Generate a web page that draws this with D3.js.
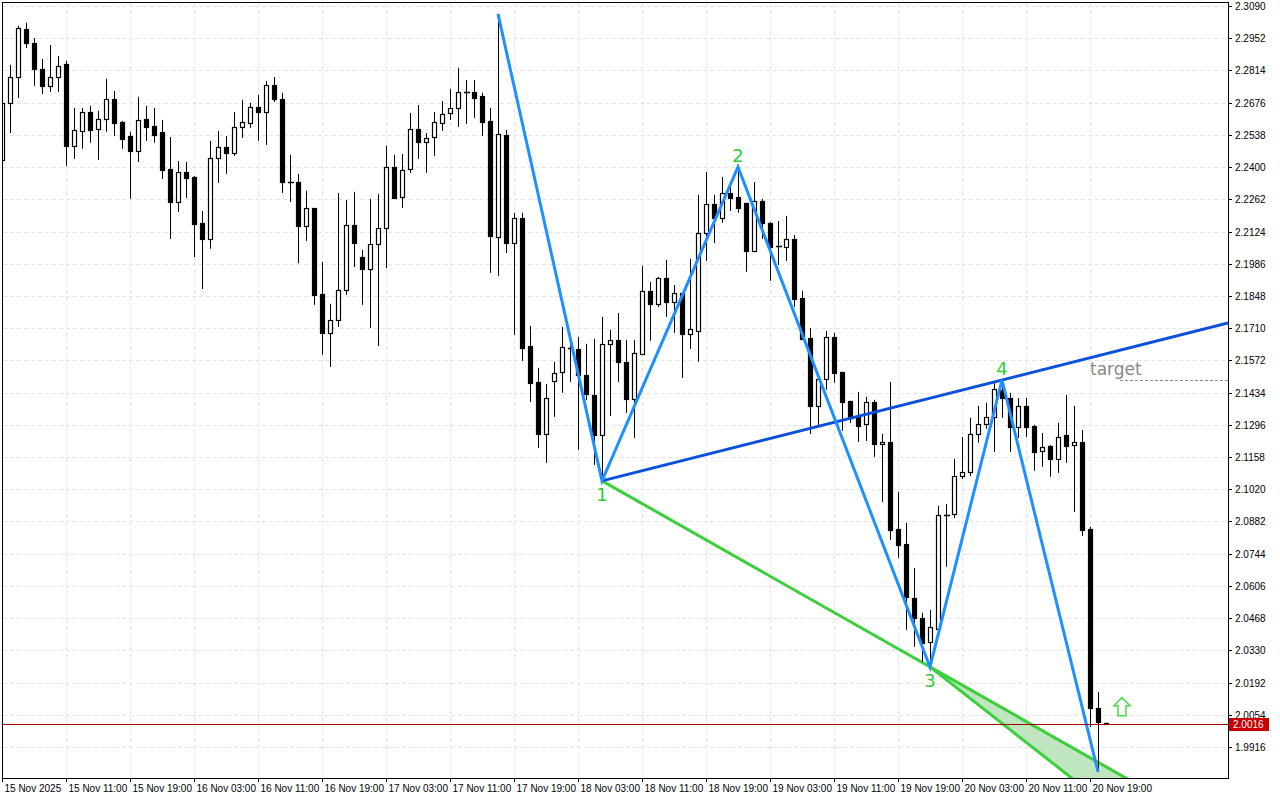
<!DOCTYPE html>
<html>
<head>
<meta charset="utf-8">
<script src="https://cdn.jsdelivr.net/npm/d3@7"></script>
<style>
  body { margin: 0; background: #fff; }
  svg { display: block; font-family: "DejaVu Sans", sans-serif; }
  .axis { font-family: "Liberation Sans", Arial, sans-serif; }
</style>
</head>
<body>
<svg id="chart" width="1280" height="800"></svg>
<script>
// Hourly candles, 139 bars
var opens = [2.2431,2.2675,2.2786,2.2992,2.2932,2.2821,2.2748,2.2786,2.2842,2.2491,
  2.2555,2.2636,2.2564,2.2606,2.2692,2.2593,2.2533,2.2469,2.2606,2.2576,
  2.2551,2.2392,2.2251,2.2379,2.2358,2.2161,2.2092,2.2439,2.2486,2.2461,
  2.2572,2.2589,2.2658,2.2636,2.2752,2.2692,2.2336,2.2336,2.2148,2.2225,
  2.1857,2.1690,2.1745,2.1874,2.2152,2.2015,2.1964,2.2071,2.2139,2.2401,
  2.2272,2.2392,2.2564,2.2508,2.2529,2.2589,2.2632,2.2653,2.2722,2.2722,
  2.2705,2.2598,2.2101,2.2538,2.2075,2.2182,2.1634,2.1480,2.1257,2.1484,
  2.1523,2.1626,2.1621,2.1510,2.1424,2.1253,2.1643,2.1660,2.1566,2.1407,
  2.1600,2.1870,2.1814,2.1925,2.1823,2.1861,2.1685,2.1698,2.2118,2.2242,
  2.2182,2.2289,2.2272,2.2247,2.2041,2.2255,2.2161,2.2062,2.2058,2.2092,
  2.1840,2.1668,2.1377,2.1493,2.1673,2.1523,2.1399,2.1330,2.1300,2.1394,
  2.1214,2.1223,2.0850,2.0786,2.0555,2.0469,2.0366,2.0422,2.0910,2.0915,
  2.1077,2.1094,2.1257,2.1300,2.1330,2.1446,2.1411,2.1287,2.1377,2.1291,
  2.1184,2.1206,2.1150,2.1253,2.1210,2.1223,2.0850,2.0084,2.0018];
var highs = [2.2688,2.2838,2.3005,2.3018,2.2953,2.2863,2.2923,2.2876,2.2855,2.2653,
  2.2653,2.2662,2.2641,2.2778,2.2726,2.2598,2.2551,2.2701,2.2662,2.2653,
  2.2602,2.2529,2.2426,2.2422,2.2362,2.2212,2.2512,2.2555,2.2533,2.2636,
  2.2688,2.2675,2.2709,2.2769,2.2786,2.2718,2.2452,2.2371,2.2298,2.2225,
  2.1994,2.1814,2.2289,2.2259,2.2294,2.2045,2.2264,2.2285,2.2491,2.2452,
  2.2456,2.2632,2.2666,2.2546,2.2636,2.2683,2.2735,2.2825,2.2773,2.2773,
  2.2718,2.2653,2.3056,2.2559,2.2204,2.2204,2.1720,2.1540,2.1471,2.1566,
  2.1715,2.1673,2.1673,2.1643,2.1664,2.1758,2.1703,2.1775,2.1660,2.1660,
  2.1977,2.1908,2.1930,2.2002,2.1895,2.1865,2.2007,2.2281,2.2379,2.2281,
  2.2358,2.2324,2.2401,2.2247,2.2336,2.2264,2.2165,2.2169,2.2191,2.2109,
  2.1870,2.1711,2.1493,2.1698,2.1690,2.1523,2.1399,2.1437,2.1416,2.1403,
  2.1257,2.1480,2.1009,2.0876,2.0683,2.0491,2.0503,2.0949,2.0957,2.1150,
  2.1244,2.1326,2.1377,2.1390,2.1480,2.1488,2.1433,2.1411,2.1411,2.1296,
  2.1261,2.1210,2.1304,2.1424,2.1377,2.1274,2.0859,2.0152,2.0020];
var lows = [2.2409,2.2546,2.2696,2.2910,2.2748,2.2713,2.2722,2.2722,2.2405,2.2435,
  2.2478,2.2504,2.2431,2.2551,2.2533,2.2478,2.2264,2.2422,2.2512,2.2504,
  2.2349,2.2092,2.2208,2.2268,2.2015,2.1878,2.2050,2.2332,2.2371,2.2448,
  2.2525,2.2568,2.2512,2.2495,2.2679,2.2289,2.2251,2.1988,2.2084,2.1810,
  2.1596,2.1544,2.1715,2.1853,2.1972,2.1810,2.1711,2.1634,2.1968,2.2264,
  2.2225,2.2375,2.2435,2.2375,2.2448,2.2555,2.2602,2.2572,2.2585,2.2611,
  2.2533,2.1947,2.1934,2.2032,2.1681,2.1570,2.1394,2.1197,2.1133,2.1330,
  2.1433,2.1480,2.1189,2.1403,2.1124,2.1056,2.1334,2.1480,2.1347,2.1240,
  2.1600,2.1656,2.1801,2.1758,2.1690,2.1497,2.1621,2.1566,2.1998,2.2075,
  2.2161,2.2212,2.2204,2.1951,2.2041,2.2092,2.1913,2.1981,2.1998,2.1801,
  2.1664,2.1257,2.1287,2.1446,2.1476,2.1270,2.1304,2.1223,2.1227,2.1159,
  2.0966,2.0803,2.0726,2.0418,2.0345,2.0281,2.0259,2.0422,2.0688,2.0897,
  2.1064,2.1077,2.1219,2.1279,2.1180,2.1326,2.1180,2.1240,2.1244,2.1099,
  2.1116,2.1073,2.1090,2.1133,2.0923,2.0820,2.0002,1.9810,2.0012];
var closes = [2.2675,2.2786,2.2996,2.2932,2.2821,2.2748,2.2786,2.2833,2.2491,2.2559,
  2.2636,2.2559,2.2606,2.2692,2.2589,2.2521,2.2469,2.2602,2.2572,2.2538,
  2.2388,2.2251,2.2379,2.2354,2.2157,2.2092,2.2439,2.2486,2.2461,2.2572,
  2.2593,2.2658,2.2636,2.2752,2.2692,2.2336,2.2336,2.2148,2.2225,2.1853,
  2.1690,2.1745,2.1874,2.2152,2.2075,2.1964,2.2071,2.2139,2.2401,2.2268,
  2.2388,2.2564,2.2508,2.2525,2.2593,2.2628,2.2653,2.2722,2.2720,2.2696,
  2.2593,2.2105,2.2542,2.2075,2.2182,2.1626,2.1476,2.1257,2.1411,2.1518,
  2.1630,2.1624,2.1510,2.1428,2.1253,2.1643,2.1660,2.1566,2.1407,2.1604,
  2.1870,2.1814,2.1925,2.1823,2.1861,2.1685,2.1707,2.2118,2.2242,2.2182,
  2.2289,2.2268,2.2225,2.2041,2.2255,2.2161,2.2058,2.2060,2.2092,2.1833,
  2.1664,2.1377,2.1493,2.1673,2.1518,2.1394,2.1326,2.1291,2.1394,2.1214,
  2.1223,2.0846,2.0782,2.0559,2.0469,2.0362,2.0431,2.0910,2.0908,2.1077,
  2.1094,2.1257,2.1300,2.1330,2.1450,2.1411,2.1287,2.1377,2.1287,2.1180,
  2.1201,2.1150,2.1244,2.1206,2.1223,2.0846,2.0084,2.0024,2.0016];

// zigzag pivots (bar index, price, label)
var zzIdx = [62, 75, 92, 116, 125, 137];
var zzPrice = [2.3056, 2.1056, 2.2401, 2.0259, 2.1488, 1.9810];
var zzLabels = ["", "1", "2", "3", "4", ""];

// lower projection of the green fan, from pivot 3 down to this point
var projIdx = 132.6;
var projPrice = 1.9813;

var targetPrice = 2.1488;
var lastPrice = 2.0016;

var yTicks = ["2.3090","2.2952","2.2814","2.2676","2.2538","2.2400","2.2262","2.2124",
  "2.1986","2.1848","2.1710","2.1572","2.1434","2.1296","2.1158","2.1020","2.0882",
  "2.0744","2.0606","2.0468","2.0330","2.0192","2.0054","1.9916"];
var xTickIdx = [0,8,16,24,32,40,48,56,64,72,80,88,96,104,112,120,128,136];
var xTickLabels = ["15 Nov 2025","15 Nov 11:00","15 Nov 19:00","16 Nov 03:00","16 Nov 11:00",
  "16 Nov 19:00","17 Nov 03:00","17 Nov 11:00","17 Nov 19:00","18 Nov 03:00","18 Nov 11:00",
  "18 Nov 19:00","19 Nov 03:00","19 Nov 11:00","19 Nov 19:00","20 Nov 03:00","20 Nov 11:00",
  "20 Nov 19:00"];

var svg = d3.select("#chart");
var plot = {left: 3, right: 1228, top: 3, bottom: 778};

var x = d3.scaleLinear().domain([0, 1]).range([2, 10]);
var y = d3.scaleLinear().domain([1.9916, 2.3090]).range([747, 6]);

svg.append("defs").append("clipPath").attr("id", "clip")
  .append("rect").attr("x", plot.left).attr("y", plot.top)
  .attr("width", plot.right - plot.left).attr("height", plot.bottom - plot.top);

// grid
var grid = svg.append("g").attr("stroke", "#e4e4e4").attr("stroke-dasharray", "4,3");
yTicks.forEach(function (t) {
  var yy = Math.round(y(+t)) + 0.5;
  grid.append("line").attr("x1", plot.left).attr("x2", plot.right).attr("y1", yy).attr("y2", yy);
});
xTickIdx.forEach(function (i) {
  var xx = Math.round(x(i)) + 0.5;
  grid.append("line").attr("x1", xx).attr("x2", xx).attr("y1", plot.top).attr("y2", plot.bottom);
});

var g = svg.append("g").attr("clip-path", "url(#clip)");

// green fan fill
var p1 = [x(zzIdx[1]), y(zzPrice[1])], p3 = [x(zzIdx[3]), y(zzPrice[3])];
var slope13 = (p3[1] - p1[1]) / (p3[0] - p1[0]);
var fanEnd = [p3[0] + 400, p3[1] + slope13 * 400];
var pp = [x(projIdx), y(projPrice)];
var ppSlope = (pp[1] - p3[1]) / (pp[0] - p3[0]);
var projEnd = [p3[0] + 400, p3[1] + ppSlope * 400];
g.append("path")
  .attr("d", "M" + p3 + "L" + fanEnd + "L" + projEnd + "Z")
  .attr("fill", "#bfe6bf");
g.append("line").attr("x1", p1[0]).attr("y1", p1[1]).attr("x2", fanEnd[0]).attr("y2", fanEnd[1])
  .attr("stroke", "#3ccf3c").attr("stroke-width", 3);
g.append("line").attr("x1", p3[0]).attr("y1", p3[1]).attr("x2", projEnd[0]).attr("y2", projEnd[1])
  .attr("stroke", "#3ccf3c").attr("stroke-width", 3);

// candles
var bars = g.append("g");
d3.range(opens.length).forEach(function (i) {
  var cx = x(i) + 0.5;
  var up = closes[i] >= opens[i];
  bars.append("line").attr("x1", cx).attr("x2", cx)
    .attr("y1", y(highs[i])).attr("y2", y(lows[i]))
    .attr("stroke", "#000").attr("stroke-width", 1);
  var top = Math.round(y(Math.max(opens[i], closes[i])));
  var bot = Math.round(y(Math.min(opens[i], closes[i])));
  if (bot - top < 1) {
    bars.append("line").attr("x1", cx - 2.5).attr("x2", cx + 3.5)
      .attr("y1", top + 0.5).attr("y2", top + 0.5).attr("stroke", "#000").attr("stroke-width", 1.5);
  } else {
    bars.append("rect").attr("x", cx - 2).attr("y", top + 0.5)
      .attr("width", 4).attr("height", bot - top)
      .attr("fill", up ? "#fff" : "#000").attr("stroke", "#000").attr("stroke-width", 1.2);
  }
});

// target line through pivots 1 and 4
var p4 = [x(zzIdx[4]), y(zzPrice[4])];
var slope14 = (p4[1] - p1[1]) / (p4[0] - p1[0]);
g.append("line").attr("x1", p1[0]).attr("y1", p1[1])
  .attr("x2", plot.right).attr("y2", p1[1] + slope14 * (plot.right - p1[0]))
  .attr("stroke", "#0a50dc").attr("stroke-width", 3);

// zigzag
g.append("path")
  .datum(d3.range(zzIdx.length))
  .attr("d", d3.line().x(function (k) { return x(zzIdx[k]); }).y(function (k) { return y(zzPrice[k]); }))
  .attr("fill", "none").attr("stroke", "#1e90ff").attr("stroke-width", 3);

// pivot labels
zzLabels.forEach(function (lab, k) {
  if (!lab) return;
  var isLow = zzPrice[k] < zzPrice[k - 1];
  svg.append("text").attr("x", x(zzIdx[k])).attr("y", y(zzPrice[k]) + (isLow ? 20 : -5))
    .attr("text-anchor", "middle").attr("font-size", 18).attr("fill", "#32cd32").text(lab);
});

// target level
svg.append("line").attr("x1", 1120).attr("x2", plot.right)
  .attr("y1", Math.round(y(targetPrice)) + 0.5).attr("y2", Math.round(y(targetPrice)) + 0.5)
  .attr("stroke", "#888").attr("stroke-dasharray", "3,2");
svg.append("text").attr("x", 1090).attr("y", y(targetPrice) - 5)
  .attr("font-size", 17).attr("fill", "#888").text("target");

// current price line
var yl = Math.round(y(lastPrice)) + 0.5;
svg.append("line").attr("x1", plot.left).attr("x2", plot.right).attr("y1", yl).attr("y2", yl)
  .attr("stroke", "#a00000").attr("stroke-width", 1);

// buy arrow
var ax = x(opens.length - 1) + 16, ay = y(lastPrice) - 8;
svg.append("path")
  .attr("d", "M" + ax + "," + (ay - 18) + "l8,8h-4v10h-8v-10h-4z")
  .attr("fill", "#fff").attr("stroke", "#44dd44").attr("stroke-width", 1.5);

// frame
svg.append("rect").attr("x", plot.left - 0.5).attr("y", plot.top - 0.5)
  .attr("width", plot.right - plot.left + 1).attr("height", plot.bottom - plot.top + 1)
  .attr("fill", "none").attr("stroke", "#000");

// right axis
var ra = svg.append("g").attr("class", "axis").attr("font-size", 10).attr("fill", "#000");
yTicks.forEach(function (t) {
  var yy = Math.round(y(+t)) + 0.5;
  ra.append("line").attr("x1", plot.right).attr("x2", plot.right + 4).attr("y1", yy).attr("y2", yy).attr("stroke", "#000");
  ra.append("text").attr("x", plot.right + 7).attr("y", yy + 3.5).text(t);
});
svg.append("rect").attr("x", plot.right + 1).attr("y", yl - 6.5).attr("width", 40).attr("height", 13).attr("fill", "#c80000");
svg.append("text").attr("class", "axis").attr("x", plot.right + 5).attr("y", yl + 3.5)
  .attr("font-size", 10).attr("fill", "#fff").text(lastPrice.toFixed(4));

// bottom axis
var ba = svg.append("g").attr("class", "axis").attr("font-size", 10).attr("fill", "#000");
xTickIdx.forEach(function (i, k) {
  var xx = Math.round(x(i)) + 0.5;
  ba.append("line").attr("x1", xx).attr("x2", xx).attr("y1", plot.bottom).attr("y2", plot.bottom + 4).attr("stroke", "#000");
  ba.append("text").attr("x", xx + 2).attr("y", plot.bottom + 14).text(xTickLabels[k]);
});
</script>
</body>
</html>
